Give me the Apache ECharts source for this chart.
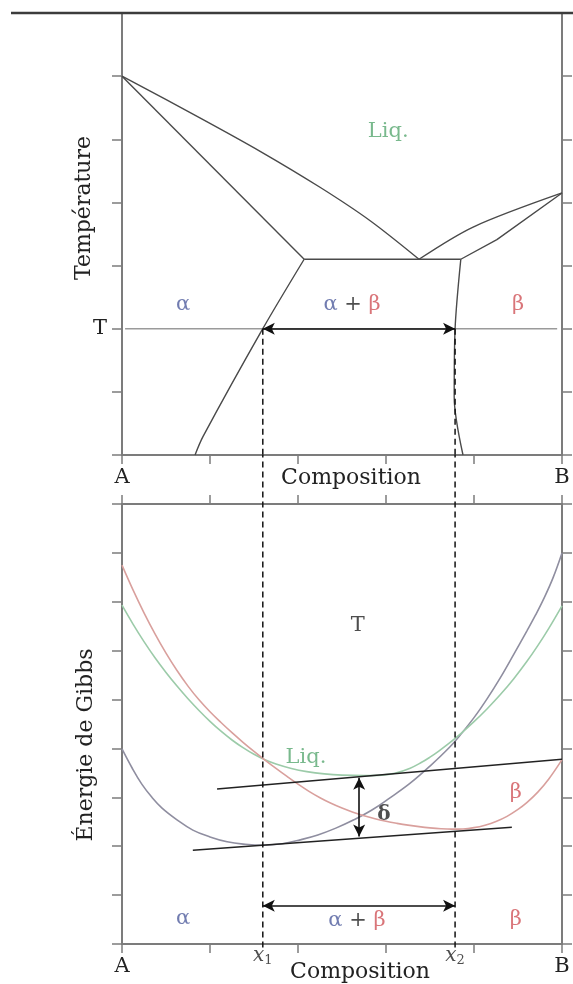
<!DOCTYPE html>
<html>
<head>
<meta charset="utf-8">
<script src="https://cdn.jsdelivr.net/npm/echarts@6/dist/echarts.min.js"></script>
<style>
  html, body { margin: 0; padding: 0; background: #fff; }
  #chart { width: 573px; height: 984px; }
</style>
</head>
<body>
<div id="chart"></div>
<script>
// ---- Composition axis (A -> B, % of B) ----
const compositionTicks = [0, 20, 40, 60, 80, 100];
const endLabels = { 0: 'A', 100: 'B' };
const temperatureT = 2;          // the isotherm T
const x1 = 32.0;                 // alpha composition at T
const x2 = 75.7;                 // beta composition at T

// ---- Phase diagram boundaries: [composition, temperature] ----
const liquidusLeft  = [[0, 6.0], [17.7, 5.34], [31.4, 4.81], [45.0, 4.24], [56.4, 3.71], [67.5, 3.1]];
const solidusLeft   = [[0, 6.0], [41.4, 3.1]];
const solvusLeft    = [[41.4, 3.1], [32.0, 2.0], [18.4, 0.29], [16.6, 0]];
const eutecticLine  = [[41.4, 3.1], [77.0, 3.1]];
const liquidusRight = [[67.5, 3.1], [79.8, 3.61], [100, 4.15]];
const solidusRight  = [[77.0, 3.1], [85.2, 3.41], [100, 4.15]];
const solvusRight   = [[77.0, 3.1], [75.7, 2.0], [75.5, 0.92], [77.5, 0]];
const isothermT     = [[0.7, 2], [98.9, 2]];

// ---- Gibbs energy curves at T: [composition, G] ----
const gibbsAlpha = [
  [0, 3.99], [2.3, 3.60], [4.5, 3.27], [6.8, 3.00], [9.1, 2.78], [12.5, 2.54], [16.1, 2.33],
  [20.0, 2.19], [23.9, 2.09], [28.0, 2.04], [32.0, 2.02], [36.4, 2.05], [40.5, 2.13],
  [44.5, 2.23], [48.6, 2.37], [52.7, 2.54], [56.8, 2.74], [60.9, 2.99], [65.5, 3.29],
  [70.0, 3.64], [74.5, 4.03], [77, 4.29], [80, 4.63], [83, 5.02], [86, 5.45], [89, 5.92],
  [92, 6.40], [94, 6.73], [96, 7.09], [98, 7.50], [100, 8.0]
];
const gibbsLiquid = [
  [0, 6.93], [2.5, 6.544], [5, 6.186], [7.5, 5.856], [10, 5.555], [12.5, 5.277], [15, 5.017],
  [17.5, 4.777], [20, 4.555], [22.5, 4.353], [25, 4.173], [27.5, 4.016], [30, 3.88],
  [32.5, 3.767], [35, 3.68], [38.5, 3.589], [42, 3.526], [46, 3.48], [50, 3.454], [55, 3.444],
  [59, 3.454], [62, 3.492], [65.5, 3.597], [68, 3.711], [70, 3.822], [72, 3.947], [74, 4.082],
  [77, 4.303], [80, 4.547], [83, 4.813], [86, 5.102], [89, 5.421], [92, 5.777], [94.5, 6.103],
  [97, 6.457], [100, 6.917]
];
const gibbsBeta = [
  [0, 7.75], [2.5, 7.244], [5, 6.775], [7.5, 6.344], [10, 5.95], [12.5, 5.594], [15, 5.275],
  [17.5, 4.994], [20, 4.75], [22.5, 4.531], [25, 4.323], [27.5, 4.126], [30, 3.94],
  [32.5, 3.763], [35, 3.592], [37.5, 3.428], [40, 3.27], [42.5, 3.123], [45, 2.992],
  [47.5, 2.878], [50, 2.78], [52.5, 2.695], [55, 2.622], [57.5, 2.56], [60, 2.51],
  [62.5, 2.468], [65, 2.431], [67.5, 2.40], [70, 2.375], [72.5, 2.357], [75, 2.349],
  [77.5, 2.353], [80, 2.38], [82.5, 2.431], [85, 2.506], [87.5, 2.611], [90, 2.752],
  [92, 2.891], [94.5, 3.106], [97, 3.375], [100, 3.771]
];
const tangentUpper = [[21.6, 3.17], [100, 3.78]];
const tangentLower = [[16.1, 1.92], [88.6, 2.39]];
const deltaAt = 53.9;
const deltaEnds = [3.40, 2.20];
const twoPhaseArrowG = 0.78;

// ---- Annotations: [text key, composition, value] ----
const phaseLabels = [
  ['liq', 60.5, 5.13], ['alpha', 13.9, 2.38], ['alphaBeta', 52.3, 2.38], ['beta', 90.0, 2.38]
];
const gibbsLabels = [
  ['T', 53.6, 6.52], ['liq', 41.8, 3.82], ['delta', 59.5, 2.64], ['beta', 89.5, 3.09],
  ['alpha', 13.9, 0.53], ['alphaBeta', 53.4, 0.47], ['beta', 89.5, 0.49]
];
const compLabels = [['x1', x1, -0.24], ['x2', x2, -0.24]];

const FONT = 'DejaVu Serif';
const C = {
  axis: '#7c7c7c', dark: '#4a4a4a', iso: '#9a9a9a', text: '#222',
  alpha: '#4e5b9c', beta: '#cf5358', liq: '#58a870',
  curveAlpha: '#8f8ea0', curveBeta: '#d9a09d', curveLiq: '#9ccba9'
};

const rich = {
  liq:   { color: C.liq, fontSize: 21, fontFamily: FONT },
  a:     { color: C.alpha, fontSize: 21, fontFamily: FONT },
  b:     { color: C.beta, fontSize: 21, fontFamily: FONT },
  p:     { color: C.text, fontSize: 21, fontFamily: FONT },
  t:     { color: C.text, fontSize: 21, fontFamily: FONT },
  d:     { color: C.text, fontSize: 20, fontFamily: FONT, fontWeight: 'bold' },
  x:     { color: C.text, fontSize: 20, fontFamily: FONT, fontStyle: 'italic' },
  s:     { color: C.text, fontSize: 13, fontFamily: FONT, padding: [10, 0, 0, 0] }
};
const textOf = {
  liq: '{liq|Liq.}', alpha: '{a|α}', beta: '{b|β}', alphaBeta: '{a|α}  {p|+}  {b|β}',
  T: '{t|T}', delta: '{d|δ}', x1: '{x|x}{s|1}', x2: '{x|x}{s|2}'
};

function line(data, xi, yi, color, width, extra) {
  return Object.assign({
    type: 'line', xAxisIndex: xi, yAxisIndex: yi, data: data, symbol: 'none',
    silent: true, animation: false,
    lineStyle: { color: color, width: width }
  }, extra || {});
}
function labels(list, xi, yi) {
  return {
    type: 'scatter', xAxisIndex: xi, yAxisIndex: yi, silent: true, animation: false,
    symbolSize: 0.1, itemStyle: { color: 'rgba(0,0,0,0)' }, clip: false,
    data: list.map(l => ({ value: [l[1], l[2]], key: l[0] })),
    label: {
      show: true, position: 'inside', rich: rich,
      formatter: p => textOf[p.data.key]
    }
  };
}
function arrow(xi, yi, from, to) {
  return {
    type: 'line', xAxisIndex: xi, yAxisIndex: yi, data: [], silent: true, animation: false,
    markLine: {
      silent: true, animation: false, symbol: ['arrow', 'arrow'], symbolSize: [9, 12],
      label: { show: false },
      lineStyle: { color: '#111', width: 1.6, type: 'solid' },
      data: [[{ coord: from }, { coord: to }]]
    }
  };
}

function xAxis(grid, pos, showLabels) {
  return {
    gridIndex: grid, type: 'value', min: 0, max: 100, interval: 20, position: pos,
    axisLine: { show: true, onZero: false, lineStyle: { color: C.axis, width: 2 } },
    axisTick: { show: true, inside: false, length: 9, lineStyle: { color: C.axis, width: 1.5 } },
    axisLabel: {
      show: showLabels, margin: 12, color: C.text, fontSize: 21, fontFamily: FONT,
      showMinLabel: true, showMaxLabel: true,
      formatter: v => endLabels[v] || ''
    },
    splitLine: { show: false }
  };
}
function yAxis(grid, pos, max, labelFn) {
  return {
    gridIndex: grid, type: 'value', min: 0, max: max, interval: 1, position: pos,
    axisLine: { show: true, onZero: false, lineStyle: { color: C.axis, width: 2 } },
    axisTick: { show: true, inside: false, length: 10, lineStyle: { color: C.axis, width: 1.5 } },
    axisLabel: {
      show: !!labelFn, margin: 15, color: C.text, fontSize: 21, fontFamily: FONT,
      formatter: labelFn || (() => '')
    },
    splitLine: { show: false }
  };
}

const dashed = { color: '#111', width: 1.5, type: [6, 4] };
const titleFont = '22px "' + FONT + '"';

const option = {
  animation: false,
  backgroundColor: '#fff',
  grid: [
    { left: 122, top: 13, width: 440, height: 442 },
    { left: 122, top: 504, width: 440, height: 440 }
  ],
  xAxis: [
    xAxis(0, 'bottom', true),
    xAxis(1, 'bottom', true),
    xAxis(1, 'top', false)
  ],
  yAxis: [
    yAxis(0, 'left', 7, v => (v === temperatureT ? 'T' : '')),
    yAxis(0, 'right', 7, null),
    yAxis(1, 'left', 9, null),
    yAxis(1, 'right', 9, null)
  ],
  graphic: [
    { type: 'line', shape: { x1: 11, y1: 13, x2: 573, y2: 13 }, style: { stroke: '#3c3c3c', lineWidth: 2.5 }, z: 10 },
    { type: 'text', x: 84, y: 208, rotation: Math.PI / 2,
      style: { text: 'Température', fill: C.text, font: titleFont, align: 'center', verticalAlign: 'middle' } },
    { type: 'text', x: 86, y: 745, rotation: Math.PI / 2,
      style: { text: 'Énergie de Gibbs', fill: C.text, font: titleFont, align: 'center', verticalAlign: 'middle' } },
    { type: 'text', x: 351, y: 478,
      style: { text: 'Composition', fill: C.text, font: titleFont, align: 'center', verticalAlign: 'middle' } },
    { type: 'text', x: 360, y: 972,
      style: { text: 'Composition', fill: C.text, font: titleFont, align: 'center', verticalAlign: 'middle' } }
  ],
  series: [
    // phase diagram
    line(isothermT, 0, 0, C.iso, 1.5),
    line(liquidusLeft, 0, 0, C.dark, 1.4, { smooth: 0.3 }),
    line(solidusLeft, 0, 0, C.dark, 1.4),
    line(solvusLeft, 0, 0, C.dark, 1.4, { smooth: 0.3 }),
    line(eutecticLine, 0, 0, C.dark, 1.4),
    line(liquidusRight, 0, 0, C.dark, 1.4, { smooth: 0.3 }),
    line(solidusRight, 0, 0, C.dark, 1.4),
    line(solvusRight, 0, 0, C.dark, 1.4, { smooth: 0.3 }),
    line([[x1, temperatureT], [x1, 0]], 0, 0, '#111', 1.5, { lineStyle: dashed }),
    line([[x2, temperatureT], [x2, 0]], 0, 0, '#111', 1.5, { lineStyle: dashed }),
    arrow(0, 0, [x1, temperatureT], [x2, temperatureT]),
    labels(phaseLabels, 0, 0),

    // Gibbs energy at T
    line(gibbsAlpha, 1, 2, C.curveAlpha, 1.6, { smooth: 0.4 }),
    line(gibbsLiquid, 1, 2, C.curveLiq, 1.6, { smooth: 0.4 }),
    line(gibbsBeta, 1, 2, C.curveBeta, 1.6, { smooth: 0.4 }),
    line(tangentUpper, 1, 2, '#222', 1.5),
    line(tangentLower, 1, 2, '#222', 1.5),
    line([[x1, -0.07], [x1, 10]], 1, 2, '#111', 1.5, { lineStyle: dashed, clip: false }),
    line([[x2, -0.07], [x2, 10]], 1, 2, '#111', 1.5, { lineStyle: dashed, clip: false }),
    arrow(1, 2, [deltaAt, deltaEnds[0]], [deltaAt, deltaEnds[1]]),
    arrow(1, 2, [x1, twoPhaseArrowG], [x2, twoPhaseArrowG]),
    labels(gibbsLabels, 1, 2),
    labels(compLabels, 1, 2)
  ]
};

const chart = echarts.init(document.getElementById('chart'), null, { renderer: 'canvas' });
chart.setOption(option);
</script>
</body>
</html>
